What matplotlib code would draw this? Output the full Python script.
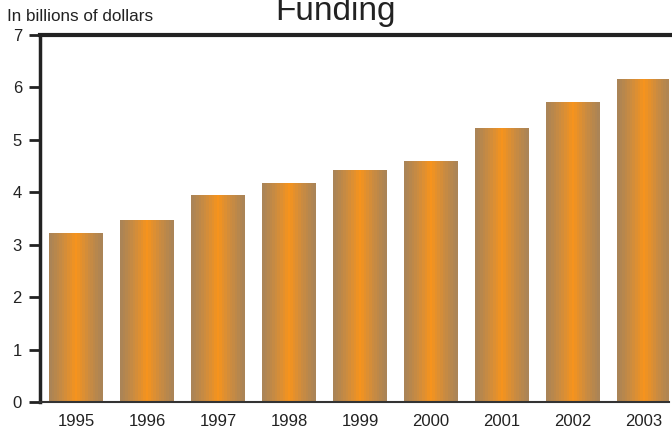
import numpy as np
import matplotlib
matplotlib.use("Agg")
import matplotlib.pyplot as plt
from matplotlib.colors import LinearSegmentedColormap
from matplotlib.lines import Line2D

years = ["1995", "1996", "1997", "1998", "1999", "2000", "2001", "2002", "2003"]
funding = [3.22, 3.47, 3.93, 4.16, 4.41, 4.58, 5.21, 5.71, 6.15]
yticks = [0, 1, 2, 3, 4, 5, 6, 7]

plt.rcParams['font.family'] = ['Liberation Sans', 'DejaVu Sans']

fig = plt.figure(figsize=(6.72, 4.29), dpi=100)
ax = fig.add_axes([40 / 672, 27 / 429, 629 / 672, 367 / 429])

x = np.arange(len(years))
bars = ax.bar(x, funding, width=0.76, color='none', edgecolor='none')

cmap = LinearSegmentedColormap.from_list(
    "barg", ["#ab8456", "#cc8c40", "#f7941d", "#cc8c40", "#ab8456"])
grad = np.linspace(0, 1, 21).reshape(1, -1)
for b in bars:
    x0, w, h = b.get_x(), b.get_width(), b.get_height()
    ax.imshow(grad, cmap=cmap, aspect='auto', interpolation='nearest',
              extent=(x0, x0 + w, 0, h), zorder=2)

ax.set_xlim(-0.507, 8.35)
ax.set_ylim(0, 7)
ax.set_xticks(x)
ax.set_xticklabels(years, fontsize=12, color='#222222')
ax.set_yticks(yticks)
ax.set_yticklabels([str(t) for t in yticks], fontsize=12, color='#222222')
ax.tick_params(axis='x', length=0, pad=9)
ax.tick_params(axis='y', length=8, width=2, color='#222222', pad=5)

for s in ['top', 'right']:
    ax.spines[s].set_visible(False)
ax.spines['left'].set_linewidth(2.5)
ax.spines['left'].set_color('#222222')
ax.spines['bottom'].set_linewidth(1.5)
ax.spines['bottom'].set_color('#333333')

# thick top rule
fig.add_artist(Line2D([40 / 672, 1.0], [1 - 35 / 429, 1 - 35 / 429],
                      transform=fig.transFigure, color='#222222', lw=3))

fig.text(0.5, 1 - 20 / 429, "Funding", fontsize=24, ha='center',
         va='baseline', color='#222222')
fig.text(7 / 672, 1 - 21 / 429, "In billions of dollars", fontsize=12.3,
         ha='left', va='baseline', color='#222222')

fig.savefig("out.png", dpi=100)
